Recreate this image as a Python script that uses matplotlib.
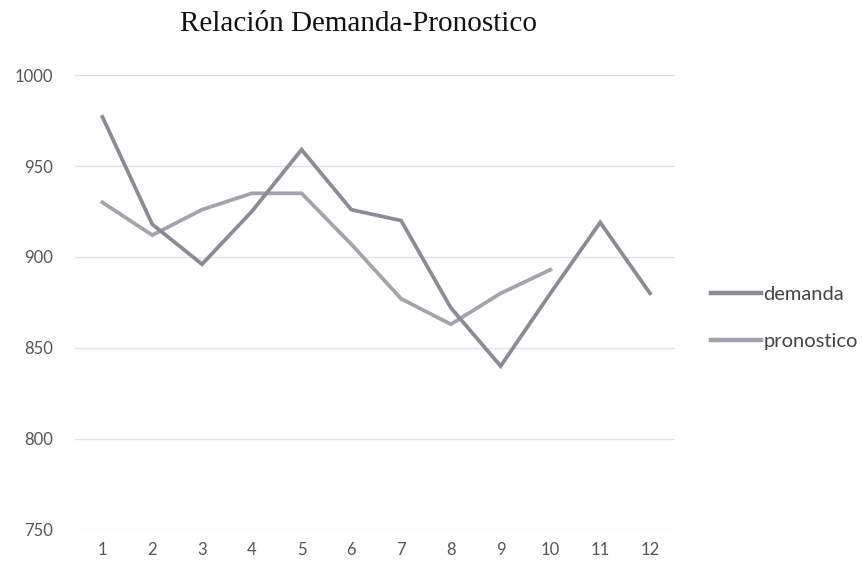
import matplotlib
matplotlib.use("Agg")
import matplotlib.pyplot as plt

# Monthly demand and forecast values
periodos = list(range(1, 13))
demanda = [977, 918, 896, 925, 959, 926, 920, 872, 840, 880, 919, 880]
pronostico = [930, 912, 926, 935, 935, 907, 877, 863, 880, 893]
y_ticks = [750, 800, 850, 900, 950, 1000]

fig = plt.figure(figsize=(8.63, 5.69), dpi=100)
ax = fig.add_axes([0.087, 0.069, 0.695, 0.799])

ax.plot(periodos, demanda, color="#8b8b96", lw=2.7, solid_joinstyle="miter",
        label="demanda", zorder=3)
ax.plot(periodos[:len(pronostico)], pronostico, color="#a3a3ac", lw=2.7,
        solid_joinstyle="miter", label="pronostico", zorder=2)

ax.set_xlim(0.45, 12.5)
ax.set_ylim(750, 1000)
ax.set_yticks(y_ticks)
ax.set_xticks(periodos)
ax.set_xticklabels([str(p) for p in periodos])
ax.grid(axis="y", color="#e2e2e6", lw=1.0)
ax.set_axisbelow(True)
for s in ax.spines.values():
    s.set_visible(False)
ax.tick_params(length=0, labelsize=12, labelcolor="#555555", pad=9)
ax.tick_params(axis="y", pad=16)
for lbl in ax.get_xticklabels() + ax.get_yticklabels():
    lbl.set_fontfamily("Lato")

leg = ax.legend(loc="center left", bbox_to_anchor=(1.03, 0.466), frameon=False,
                handlelength=2.5, handletextpad=0.1, labelspacing=1.45,
                prop={"family": "Lato", "size": 14.5})
for t in leg.get_texts():
    t.set_color("#444444")
for h in leg.get_lines():
    h.set_linewidth(3.2)

fig.text(0.415, 0.958, "Relación Demanda-Pronostico", ha="center", va="center",
         fontsize=21, family="Liberation Serif", color="#111111")

fig.savefig("out.png", dpi=100, facecolor="white")
